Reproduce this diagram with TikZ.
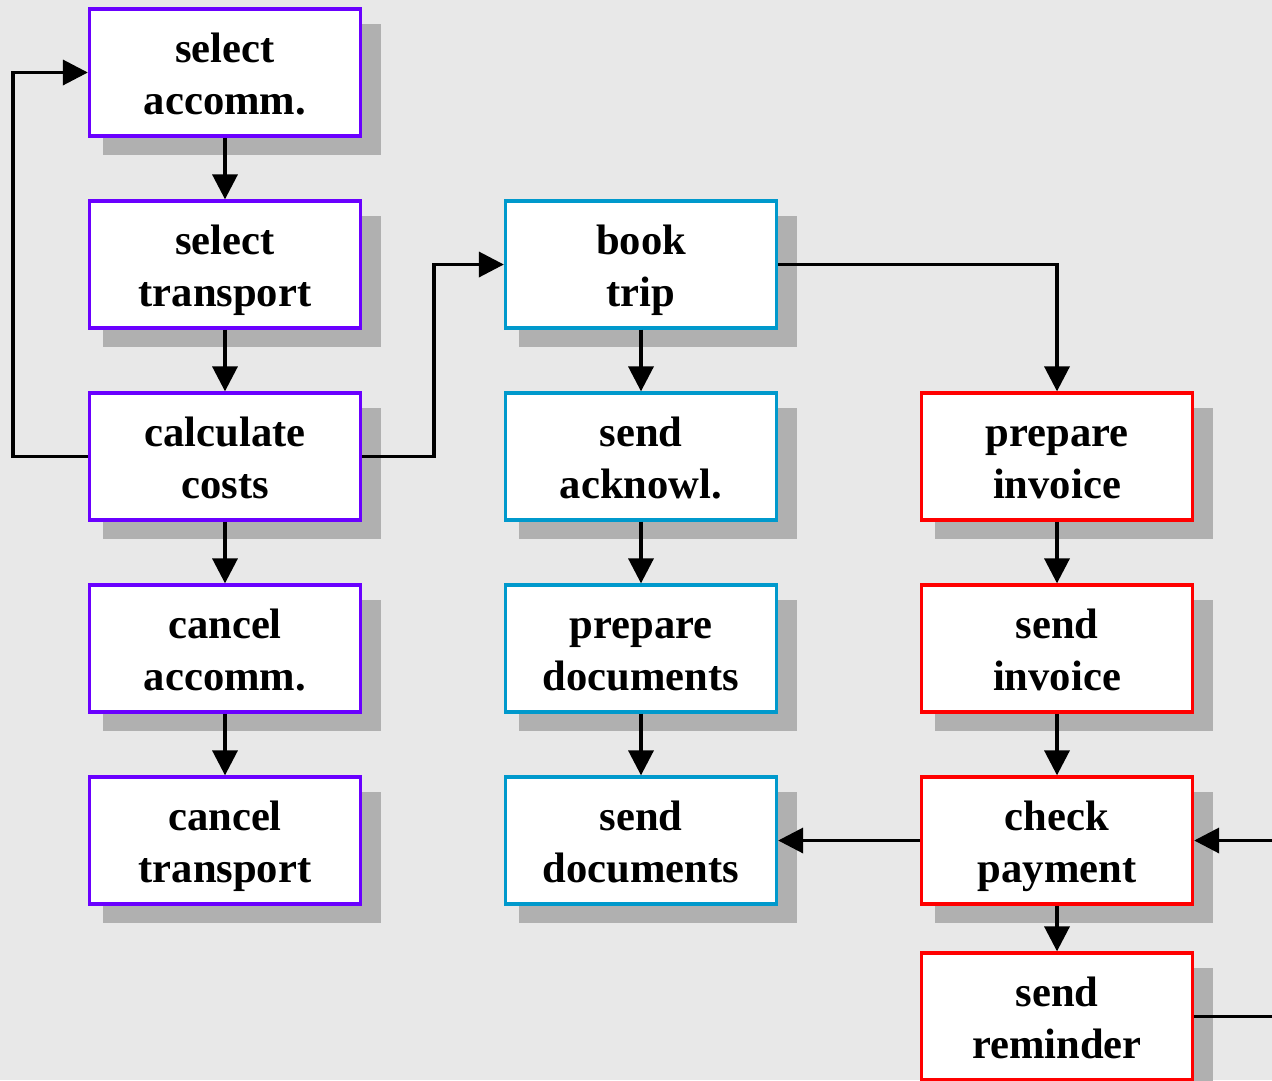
\documentclass[tikz,border=0pt]{standalone}
\usepackage{fontspec}
\setmainfont{Liberation Serif}
\usetikzlibrary{arrows.meta,shadows}
\definecolor{bgc}{HTML}{E8E8E8}
\definecolor{shadowc}{HTML}{B0B0B0}
\definecolor{plan}{HTML}{6A00FF}
\definecolor{book}{HTML}{0099CC}
\definecolor{bill}{HTML}{FF0000}
\tikzset{
  % box with drop shadow; #1 colour, #2 and #3 the two text lines
  task/.style n args={3}{draw=#1, fill=white, line width=3.3pt, minimum width=271pt, minimum height=127pt,
    inner sep=0pt,
    drop shadow={shadow xshift=16.5pt, shadow yshift=-16.5pt, shadow scale=1.025,
      opacity=1, fill=shadowc},
    label={[tasktext]center:{\strut #2\\\strut #3}}},
  tasktext/.style={align=center, inner sep=0pt, yshift=-5.4pt,
    font=\fontsize{42.6}{52}\selectfont\bfseries},
  flow/.style={line width=3.6pt, -{Triangle[length=25pt,width=25pt]}}
}
\begin{document}
\begin{tikzpicture}[x=1pt,y=-1pt]
\clip (0,0) rectangle (1272,1080);
\fill[bgc] (0,0) rectangle (1272,1080);
% planning column
\node[task={plan}{select}{accomm.}] (selacc) at (225,72.5) {};
\node[task={plan}{select}{transport}] (seltra) at (225,264.5) {};
\node[task={plan}{calculate}{costs}] (calc) at (225,456.5) {};
\node[task={plan}{cancel}{accomm.}] (canacc) at (225,648.5) {};
\node[task={plan}{cancel}{transport}] (cantra) at (225,840.5) {};
% booking column
\node[task={book}{book}{trip}] (booktrip) at (641,264.5) {};
\node[task={book}{send}{acknowl.}] (ack) at (641,456.5) {};
\node[task={book}{prepare}{documents}] (prepdoc) at (641,648.5) {};
\node[task={book}{send}{documents}] (senddoc) at (641,840.5) {};
% billing column
\node[task={bill}{prepare}{invoice}] (prepinv) at (1057,456.5) {};
\node[task={bill}{send}{invoice}] (sendinv) at (1057,648.5) {};
\node[task={bill}{check}{payment}] (check) at (1057,840.5) {};
\node[task={bill}{send}{reminder}] (remind) at (1057,1016.5) {};
\coordinate (loopR) at (1300,0);
% connectors
\draw[flow] (selacc) -- (seltra);
\draw[flow] (seltra) -- (calc);
\draw[flow] (calc) -- (canacc);
\draw[flow] (canacc) -- (cantra);
\draw[flow] (calc.west) -- ++(-75,0) |- (selacc.west);
\draw[flow] (calc.east) -- ++(72,0) |- (booktrip.west);
\draw[flow] (booktrip) -- (ack);
\draw[flow] (ack) -- (prepdoc);
\draw[flow] (prepdoc) -- (senddoc);
\draw[flow] (booktrip.east) -| (prepinv.north);
\draw[flow] (prepinv) -- (sendinv);
\draw[flow] (sendinv) -- (check);
\draw[flow] (check) -- (senddoc);
\draw[flow] (check) -- (remind);
\draw[flow] (remind.east) -| (loopR) |- (check.east);
\end{tikzpicture}
\end{document}
